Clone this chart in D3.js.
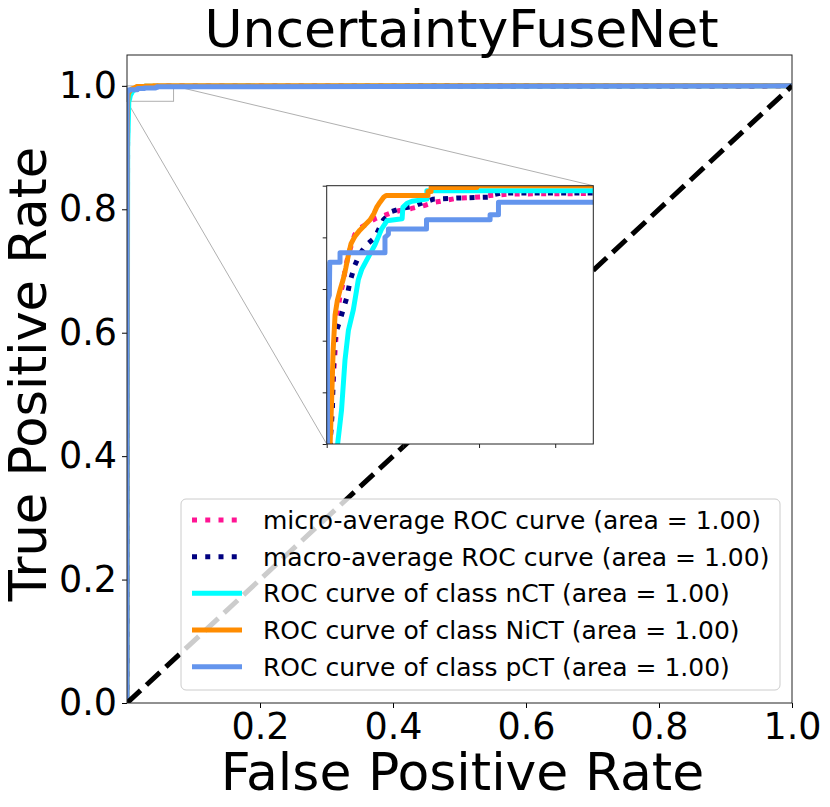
<!DOCTYPE html>
<html>
<head>
<meta charset="utf-8">
<script src="https://cdn.jsdelivr.net/npm/d3@7"></script>
<style>
  html, body { margin: 0; padding: 0; background: #fff; }
  svg { display: block; font-family: "DejaVu Sans", sans-serif; }
</style>
</head>
<body>
<svg id="roc-chart" width="830" height="807"></svg>
<script>
// values
const chartTitle = "UncertaintyFuseNet";
const xLabel = "False Positive Rate";
const yLabel = "True Positive Rate";

const xDomain = [0, 1];
const yDomain = [0, 1.05];
const xTickValues = [0.2, 0.4, 0.6, 0.8, 1.0];
const yTickValues = [0.0, 0.2, 0.4, 0.6, 0.8, 1.0];

const insetXDomain = [0, 0.07];
const insetYDomain = [0.975, 1.0];
const insetXTicks = [0, 0.02, 0.04, 0.06];
const insetYTicks = [0.975, 0.98, 0.985, 0.99, 0.995, 1.0];

const microFpr = [0, 0.0006, 0.0009, 0.0014, 0.0019, 0.0024, 0.0030, 0.0035, 0.0044, 0.0048, 0.0056, 0.0066, 0.0074, 0.0083, 0.0105, 0.0127, 0.0149, 0.0171, 0.0192, 0.0223, 0.0258, 0.0284, 0.0345, 0.0403, 0.0429, 0.0487, 0.0700, 1];
const microTpr = [0, 0.9744, 0.9750, 0.9793, 0.9822, 0.9851, 0.9880, 0.9894, 0.9907, 0.9918, 0.9932, 0.9944, 0.9953, 0.9958, 0.9963, 0.9968, 0.9971, 0.9974, 0.9976, 0.9978, 0.9981, 0.9984, 0.9988, 0.9989, 0.99905, 0.9992, 0.99924, 1];

const macroFpr = [0, 0.0009, 0.0010, 0.0015, 0.0017, 0.0020, 0.0026, 0.0035, 0.0044, 0.0053, 0.0061, 0.0074, 0.0087, 0.0105, 0.0127, 0.0137, 0.0149, 0.0171, 0.0197, 0.0227, 0.0249, 0.0280, 0.0341, 0.0429, 0.0434, 0.0460, 0.0700, 1];
const macroTpr = [0, 0.9744, 0.9757, 0.9783, 0.9815, 0.9848, 0.9860, 0.9870, 0.9881, 0.9892, 0.9907, 0.9923, 0.9934, 0.9943, 0.9950, 0.9958, 0.9967, 0.9975, 0.9978, 0.9980, 0.9983, 0.9987, 0.9988, 0.9989, 0.9991, 0.9993, 0.9993, 1];

const nctFpr = [0, 0.0010, 0.0027, 0.0029, 0.0039, 0.0048, 0.0057, 0.0070, 0.0083, 0.0092, 0.0105, 0.0114, 0.0127, 0.0135, 0.0144, 0.0158, 0.0198, 0.0200, 0.0211, 0.0224, 0.0263, 0.0263, 0.0700, 1];
const nctTpr = [0, 0.9000, 0.9744, 0.9751, 0.9783, 0.9831, 0.9860, 0.9880, 0.9909, 0.9919, 0.9928, 0.9934, 0.9943, 0.9950, 0.9958, 0.9966, 0.9968, 0.9979, 0.9983, 0.9985, 0.9987, 0.9995, 0.9995, 1];

const nictFpr = [0, 0.0003, 0.0009, 0.0013, 0.0017, 0.0022, 0.0028, 0.0035, 0.0043, 0.0050, 0.0057, 0.0064, 0.0074, 0.0087, 0.0103, 0.0114, 0.0124, 0.0131, 0.0140, 0.0150, 0.0156, 0.0266, 0.0266, 0.0274, 0.0274, 0.0394, 0.0394, 1];
const nictTpr = [0, 0.9000, 0.9750, 0.9793, 0.9841, 0.9875, 0.9889, 0.9899, 0.9909, 0.9920, 0.9933, 0.9944, 0.9951, 0.9957, 0.9963, 0.9967, 0.9973, 0.9979, 0.9984, 0.9989, 0.99905, 0.99905, 0.99944, 0.99944, 0.99983, 0.99983, 1, 1];

const pctFpr = [0, 0.0002, 0.0007, 0.0008, 0.0035, 0.0035, 0.0153, 0.0153, 0.0162, 0.0162, 0.0262, 0.0262, 0.0429, 0.0429, 0.0451, 0.0451, 0.0700, 1];
const pctTpr = [0, 0.9889, 0.9894, 0.9926, 0.9926, 0.9935, 0.9935, 0.9950, 0.9953, 0.9958, 0.9958, 0.9967, 0.9967, 0.9972, 0.9972, 0.9984, 0.9984, 1];

const chanceFpr = [0, 1];
const chanceTpr = [0, 1];

const legendLabels = [
  "micro-average ROC curve (area = 1.00)",
  "macro-average ROC curve (area = 1.00)",
  "ROC curve of class nCT (area = 1.00)",
  "ROC curve of class NiCT (area = 1.00)",
  "ROC curve of class pCT (area = 1.00)",
];

(function drawRocChart() {
  const svg = d3.select("#roc-chart");

  const plot = { left: 127, right: 792, top: 55, bottom: 703 };
  const inset = { left: 326.7, right: 593.3, top: 185.7, bottom: 444 };
  const lineWidth = 5;

  const series = [
    { fpr: microFpr, tpr: microTpr, color: "deeppink", dash: "5 8.25" },
    { fpr: macroFpr, tpr: macroTpr, color: "navy", dash: "5 8.25" },
    { fpr: nctFpr, tpr: nctTpr, color: "aqua", dash: null },
    { fpr: nictFpr, tpr: nictTpr, color: "darkorange", dash: null },
    { fpr: pctFpr, tpr: pctTpr, color: "cornflowerblue", dash: null },
  ];
  series.forEach((s, i) => {
    s.label = legendLabels[i];
    s.points = s.fpr.map((f, j) => [f, s.tpr[j]]);
  });

  const x = d3.scaleLinear().domain(xDomain).range([plot.left, plot.right]);
  const y = d3.scaleLinear().domain(yDomain).range([plot.bottom, plot.top]);
  const xi = d3.scaleLinear().domain(insetXDomain).range([inset.left, inset.right]);
  const yi = d3.scaleLinear().domain(insetYDomain).range([inset.bottom, inset.top]);

  const defs = svg.append("defs");
  defs.append("clipPath").attr("id", "clip-main")
    .append("rect")
    .attr("x", plot.left).attr("y", plot.top)
    .attr("width", plot.right - plot.left).attr("height", plot.bottom - plot.top);
  defs.append("clipPath").attr("id", "clip-inset")
    .append("rect")
    .attr("x", inset.left).attr("y", inset.top)
    .attr("width", inset.right - inset.left).attr("height", inset.bottom - inset.top);

  const lineMain = d3.line().x((d) => x(d[0])).y((d) => y(d[1]));
  const lineInset = d3.line().x((d) => xi(d[0])).y((d) => yi(d[1]));

  function styleCurve(sel, s) {
    sel.attr("fill", "none")
      .attr("stroke", s.color)
      .attr("stroke-width", lineWidth)
      .attr("stroke-linejoin", "round")
      .attr("stroke-linecap", s.dash ? "butt" : "square")
      .attr("stroke-dasharray", s.dash);
  }

  // zoom marker and connectors (under the curves)
  const markG = svg.append("g");
  markG.append("rect")
    .attr("x", x(insetXDomain[0])).attr("y", y(insetYDomain[1]))
    .attr("width", x(insetXDomain[1]) - x(insetXDomain[0]))
    .attr("height", y(insetYDomain[0]) - y(insetYDomain[1]))
    .attr("fill", "none").attr("stroke", "#b0b0b0").attr("stroke-width", 1);
  markG.append("line")
    .attr("x1", x(insetXDomain[1])).attr("y1", y(insetYDomain[1]))
    .attr("x2", xi(insetXDomain[1])).attr("y2", yi(insetYDomain[1]))
    .attr("stroke", "#b0b0b0").attr("stroke-width", 1);
  markG.append("line")
    .attr("x1", x(insetXDomain[0])).attr("y1", y(insetYDomain[0]))
    .attr("x2", xi(insetXDomain[0])).attr("y2", yi(insetYDomain[0]))
    .attr("stroke", "#b0b0b0").attr("stroke-width", 1);

  // main curves
  const mainG = svg.append("g").attr("clip-path", "url(#clip-main)");
  series.forEach((s) => {
    mainG.append("path").datum(s.points).attr("d", lineMain).call(styleCurve, s);
  });
  mainG.append("path")
    .datum(chanceFpr.map((f, i) => [f, chanceTpr[i]]))
    .attr("d", lineMain)
    .attr("fill", "none").attr("stroke", "#000")
    .attr("stroke-width", lineWidth).attr("stroke-dasharray", "18.5 8");

  // main axes
  const yAxis = svg.append("g")
    .attr("transform", `translate(${plot.left},0)`)
    .call(d3.axisLeft(y).tickValues(yTickValues).tickFormat(d3.format(".1f"))
      .tickSize(5).tickPadding(5));
  const xAxis = svg.append("g")
    .attr("transform", `translate(0,${plot.bottom})`)
    .call(d3.axisBottom(x).tickValues(xTickValues).tickFormat(d3.format(".1f"))
      .tickSize(5).tickPadding(5));
  [xAxis, yAxis].forEach((g) => {
    g.select(".domain").remove();
    g.selectAll("text").attr("font-size", 36.5).attr("fill", "#000")
      .attr("font-family", "DejaVu Sans, sans-serif");
    g.selectAll("line").attr("stroke", "#000");
  });

  svg.append("rect")
    .attr("x", plot.left).attr("y", plot.top)
    .attr("width", plot.right - plot.left).attr("height", plot.bottom - plot.top)
    .attr("fill", "none").attr("stroke", "#222").attr("stroke-width", 1);

  // legend
  const legendBox = { x: 181, y: 499, w: 599, h: 191 };
  const legendG = svg.append("g");
  legendG.append("rect")
    .attr("x", legendBox.x).attr("y", legendBox.y)
    .attr("width", legendBox.w).attr("height", legendBox.h)
    .attr("rx", 5)
    .attr("fill", "rgba(255,255,255,0.8)")
    .attr("stroke", "#cccccc").attr("stroke-width", 1);
  const rowY = d3.scaleLinear().domain([0, series.length - 1]).range([520, 666.7]);
  series.forEach((s, i) => {
    const cy = rowY(i);
    legendG.append("line")
      .attr("x1", 192).attr("x2", 242).attr("y1", cy).attr("y2", cy)
      .call(styleCurve, s)
      .attr("stroke-linecap", "butt");
    legendG.append("text")
      .attr("x", 263).attr("y", cy).attr("dy", "0.36em")
      .attr("font-size", 25).attr("fill", "#000")
      .text(s.label);
  });

  // inset axes
  const insetG = svg.append("g");
  insetG.append("rect")
    .attr("x", inset.left).attr("y", inset.top)
    .attr("width", inset.right - inset.left).attr("height", inset.bottom - inset.top)
    .attr("fill", "#fff");
  const insetCurves = insetG.append("g").attr("clip-path", "url(#clip-inset)");
  series.forEach((s) => {
    insetCurves.append("path").datum(s.points).attr("d", lineInset).call(styleCurve, s);
  });
  const insetY = insetG.append("g")
    .attr("transform", `translate(${inset.left},0)`)
    .call(d3.axisLeft(yi).tickValues(insetYTicks).tickFormat("").tickSize(4));
  const insetX = insetG.append("g")
    .attr("transform", `translate(0,${inset.bottom})`)
    .call(d3.axisBottom(xi).tickValues(insetXTicks).tickFormat("").tickSize(4));
  [insetX, insetY].forEach((g) => {
    g.select(".domain").remove();
    g.selectAll("line").attr("stroke", "#222");
  });
  insetG.append("rect")
    .attr("x", inset.left).attr("y", inset.top)
    .attr("width", inset.right - inset.left).attr("height", inset.bottom - inset.top)
    .attr("fill", "none").attr("stroke", "#222").attr("stroke-width", 1);

  // title and axis labels
  svg.append("text")
    .attr("x", (plot.left + plot.right) / 2 + 2).attr("y", 47)
    .attr("text-anchor", "middle").attr("font-size", 52).attr("fill", "#000")
    .text(chartTitle);
  svg.append("text")
    .attr("x", (plot.left + plot.right) / 2 + 3).attr("y", 790)
    .attr("text-anchor", "middle").attr("font-size", 52).attr("fill", "#000")
    .text(xLabel);
  svg.append("text")
    .attr("transform", `translate(46,${(plot.top + plot.bottom) / 2 - 5}) rotate(-90)`)
    .attr("text-anchor", "middle").attr("font-size", 51).attr("fill", "#000")
    .text(yLabel);
})();
</script>
</body>
</html>
